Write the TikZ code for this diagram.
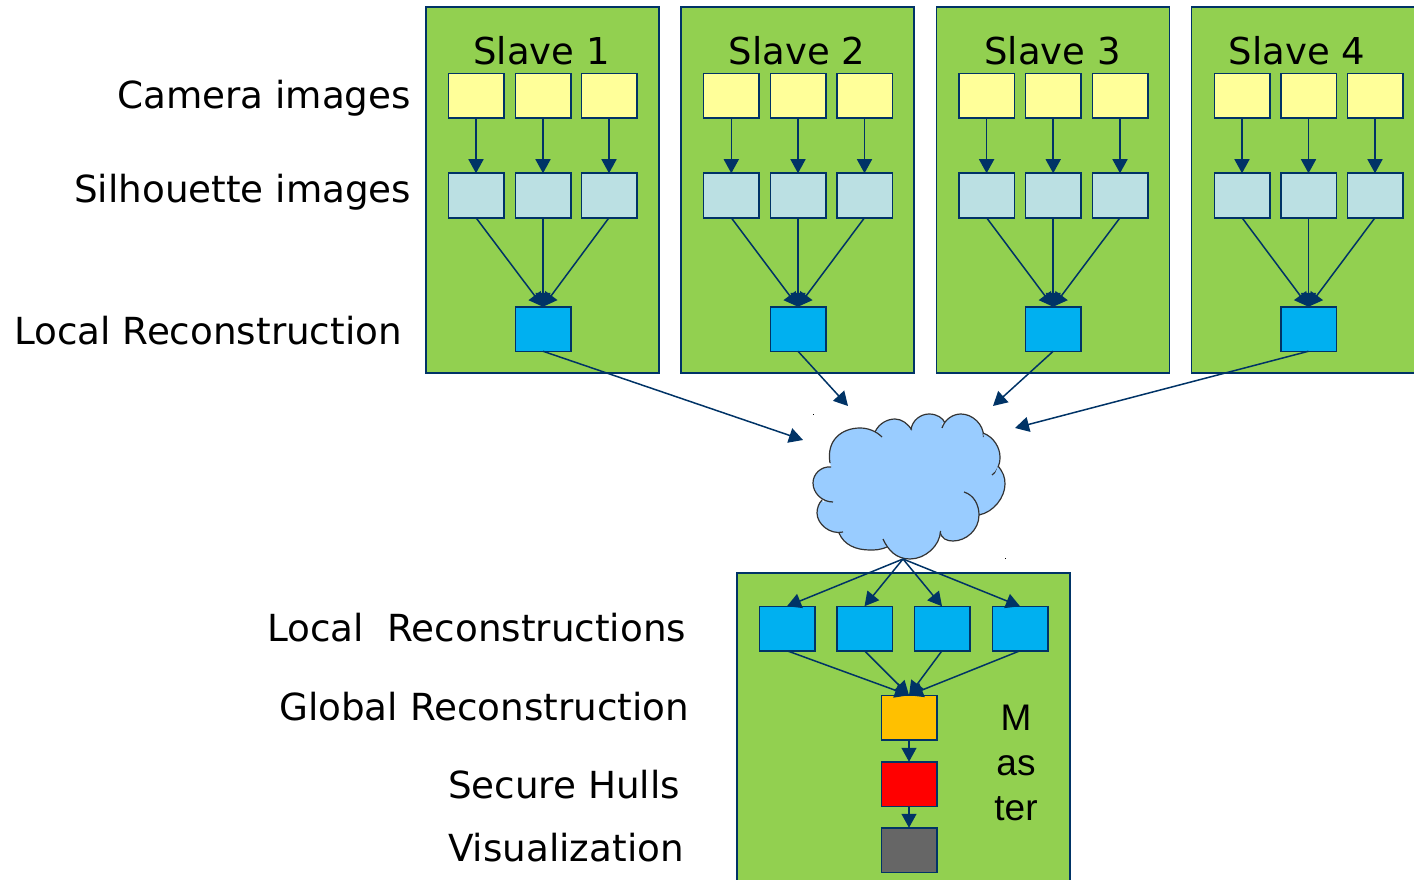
\documentclass[tikz,border=0pt]{standalone}
\usepackage{fontspec}
\setmainfont{DejaVu Sans}
\newfontfamily\masterfont{Liberation Sans}
\usetikzlibrary{arrows.meta}
\definecolor{edge}{HTML}{003366}
\definecolor{panelgreen}{HTML}{92D050}
\definecolor{camfill}{HTML}{FFFF99}
\definecolor{silfill}{HTML}{BBE0E3}
\definecolor{recfill}{HTML}{00B0F0}
\definecolor{cloudfill}{HTML}{99CCFF}
\definecolor{globfill}{HTML}{FFC000}
\definecolor{viewfill}{HTML}{666666}
\begin{document}
\begin{tikzpicture}[x=1pt, y=-1pt,
    panel/.style={draw=edge, line width=1.5pt, fill=panelgreen, inner sep=0pt, outer sep=0pt, minimum width=233pt},
    box/.style={draw=edge, line width=1.5pt, inner sep=0pt, outer sep=0pt, minimum width=55.5pt, minimum height=44.5pt},
    lab/.style={anchor=base west, inner sep=0pt, font=\fontsize{37.3}{44}\selectfont},
    head/.style={anchor=base, inner sep=0pt, font=\fontsize{37}{44}\selectfont},
    arr/.style={-{Triangle[length=14pt, width=15pt]}, draw=edge, line width=1.5pt},
    lobe/.style={draw=black!80, line width=1.2pt, fill=cloudfill}]
    \path[use as bounding box, clip] (0, 0) rectangle (1414, 880);

    %Panels
    \node[panel, minimum height=366pt] at (542.5, 190) (p1) {};
    \node[panel, minimum height=366pt] at (797.5, 190) (p2) {};
    \node[panel, minimum height=366pt] at (1052.8, 190) (p3) {};
    \node[panel, minimum height=366pt] at (1307.8, 190) (p4) {};
    \node[panel, minimum width=333pt, minimum height=340pt] at (903.5, 743) (pm) {};

    %Labels
    \node[lab] at (117, 109) (lcam) {Camera images};
    \node[lab] at (74, 202) (lsil) {Silhouette images};
    \node[lab] at (14, 344) (lrec) {Local Reconstruction};
    \node[lab] at (267, 641) (lrecs) {Local \ Reconstructions};
    \node[lab] at (279, 720) (lglob) {Global Reconstruction};
    \node[lab] at (448, 798) (lhull) {Secure Hulls};
    \node[lab] at (448, 861) (lview) {Visualization};
    \node[head] at (541.5, 65) (t1) {Slave 1};
    \node[head] at (797, 65) (t2) {Slave 2};
    \node[head] at (1052.5, 65) (t3) {Slave 3};
    \node[head] at (1297, 65) (t4) {Slave 4};
    \node[inner sep=0pt, align=center, font=\masterfont\fontsize{37}{45}\selectfont] at (1016, 763) (tm) {M\\as\\ter};

    %Slave 1
    \node[box, fill=camfill] at (476, 96) (c11) {};
    \node[box, fill=camfill] at (543, 96) (c12) {};
    \node[box, fill=camfill] at (609, 96) (c13) {};
    \node[box, fill=silfill] at (476, 195.5) (s11) {};
    \node[box, fill=silfill] at (543, 195.5) (s12) {};
    \node[box, fill=silfill] at (609, 195.5) (s13) {};
    \node[box, fill=recfill] at (543, 329) (r1) {};

    %Slave 2
    \node[box, fill=camfill] at (731.3, 96) (c21) {};
    \node[box, fill=camfill] at (798, 96) (c22) {};
    \node[box, fill=camfill] at (864.5, 96) (c23) {};
    \node[box, fill=silfill] at (731.3, 195.5) (s21) {};
    \node[box, fill=silfill] at (798, 195.5) (s22) {};
    \node[box, fill=silfill] at (864.5, 195.5) (s23) {};
    \node[box, fill=recfill] at (798, 329) (r2) {};

    %Slave 3
    \node[box, fill=camfill] at (986.6, 96) (c31) {};
    \node[box, fill=camfill] at (1053.2, 96) (c32) {};
    \node[box, fill=camfill] at (1120, 96) (c33) {};
    \node[box, fill=silfill] at (986.6, 195.5) (s31) {};
    \node[box, fill=silfill] at (1053.2, 195.5) (s32) {};
    \node[box, fill=silfill] at (1120, 195.5) (s33) {};
    \node[box, fill=recfill] at (1053.2, 329) (r3) {};

    %Slave 4
    \node[box, fill=camfill] at (1242, 96) (c41) {};
    \node[box, fill=camfill] at (1308.5, 96) (c42) {};
    \node[box, fill=camfill] at (1375, 96) (c43) {};
    \node[box, fill=silfill] at (1242, 195.5) (s41) {};
    \node[box, fill=silfill] at (1308.5, 195.5) (s42) {};
    \node[box, fill=silfill] at (1375, 195.5) (s43) {};
    \node[box, fill=recfill] at (1308.5, 329) (r4) {};

    %Master
    \node[box, fill=recfill] at (787, 628.5) (m1) {};
    \node[box, fill=recfill] at (864.5, 628.5) (m2) {};
    \node[box, fill=recfill] at (942, 628.5) (m3) {};
    \node[box, fill=recfill] at (1020, 628.5) (m4) {};
    \node[box, fill=globfill] at (909, 717.5) (glob) {};
    \node[box, fill=red] at (909, 784) (hull) {};
    \node[box, fill=viewfill] at (909, 850) (view) {};

    %Cloud
    \fill[cloudfill] (830, 463) -- (860, 430) -- (875, 432) -- (895, 421) -- (911, 430) -- (929, 416) -- (943, 425) -- (961, 416) -- (983, 433) -- (1000, 457) -- (998, 466) -- (1003, 484) -- (979, 515) -- (953, 539) -- (940, 536) -- (910, 557) -- (887, 547) -- (870, 548) -- (839, 533) -- (817, 513) -- (822, 503) -- (825, 501) -- (813, 483) -- (831, 467) -- cycle;
    \path[lobe] (830, 463) .. controls (826, 440) and (842, 428) .. (860, 428) .. controls (868, 428) and (876, 431) .. (882, 437);
    \path[lobe] (875, 432) .. controls (879, 423) and (888, 419) .. (895, 419) .. controls (902, 419) and (908, 424) .. (912, 430);
    \path[lobe] (911, 430) .. controls (912, 420) and (921, 414) .. (929, 414) .. controls (937, 414) and (943, 418) .. (945, 423);
    \path[lobe] (942, 428) .. controls (945, 419) and (953, 414) .. (961, 414) .. controls (972, 414) and (984, 424) .. (983.5, 437);
    \path[lobe] (983, 433) .. controls (994, 437) and (1000, 448) .. (1000, 457) .. controls (1000, 465) and (997, 472) .. (992, 475);
    \path[lobe] (998, 466) .. controls (1003, 472) and (1005, 477) .. (1005, 484) .. controls (1005, 497) and (994, 512) .. (979, 515);
    \path[lobe] (964, 492) .. controls (974, 495) and (979, 505) .. (979, 515) .. controls (979, 530) and (966, 541) .. (953, 541) .. controls (947, 541) and (941, 539) .. (940, 531);
    \path[lobe] (940.5, 531) .. controls (940, 546) and (925, 559) .. (910, 559) .. controls (896, 559) and (888, 550) .. (883, 539);
    \path[lobe] (887, 547) .. controls (880, 550) and (875, 550) .. (870, 550) .. controls (856, 550) and (844, 545) .. (839, 533);
    \path[lobe] (843, 532) .. controls (830, 535) and (817, 524) .. (817, 513) .. controls (817, 508) and (819, 503) .. (822, 500);
    \path[lobe] (833, 502) .. controls (822, 502) and (813, 493) .. (813, 483) .. controls (813, 474) and (821, 466) .. (831, 467);
    \fill[black] (813, 414) rectangle (814, 415);
    \fill[black] (1005, 558) rectangle (1006, 559);
    \coordinate (in1) at (803, 440);
    \coordinate (in2) at (848, 406);
    \coordinate (in3) at (993, 406);
    \coordinate (in4) at (1015, 428);
    \coordinate (out) at (903, 559);

    %Lines
    \draw[arr] (c11.south) -- (s11.north);
    \draw[arr] (c12.south) -- (s12.north);
    \draw[arr] (c13.south) -- (s13.north);
    \draw[arr] (s11.south) -- (r1.north);
    \draw[arr] (s12.south) -- (r1.north);
    \draw[arr] (s13.south) -- (r1.north);
    \draw[arr] (c21.south) -- (s21.north);
    \draw[arr] (c22.south) -- (s22.north);
    \draw[arr] (c23.south) -- (s23.north);
    \draw[arr] (s21.south) -- (r2.north);
    \draw[arr] (s22.south) -- (r2.north);
    \draw[arr] (s23.south) -- (r2.north);
    \draw[arr] (c31.south) -- (s31.north);
    \draw[arr] (c32.south) -- (s32.north);
    \draw[arr] (c33.south) -- (s33.north);
    \draw[arr] (s31.south) -- (r3.north);
    \draw[arr] (s32.south) -- (r3.north);
    \draw[arr] (s33.south) -- (r3.north);
    \draw[arr] (c41.south) -- (s41.north);
    \draw[arr] (c42.south) -- (s42.north);
    \draw[arr] (c43.south) -- (s43.north);
    \draw[arr] (s41.south) -- (r4.north);
    \draw[arr] (s42.south) -- (r4.north);
    \draw[arr] (s43.south) -- (r4.north);
    \draw[arr] (r1.south) -- (in1);
    \draw[arr] (r2.south) -- (in2);
    \draw[arr] (r3.south) -- (in3);
    \draw[arr] (r4.south) -- (in4);
    \draw[arr] (out) -- (m1.north);
    \draw[arr] (out) -- (m2.north);
    \draw[arr] (out) -- (m3.north);
    \draw[arr] (out) -- (m4.north);
    \draw[arr] (m1.south) -- (glob.north);
    \draw[arr] (m2.south) -- (glob.north);
    \draw[arr] (m3.south) -- (glob.north);
    \draw[arr] (m4.south) -- (glob.north);
    \draw[arr] (glob.south) -- (hull.north);
    \draw[arr] (hull.south) -- (view.north);

\end{tikzpicture}
\end{document}
